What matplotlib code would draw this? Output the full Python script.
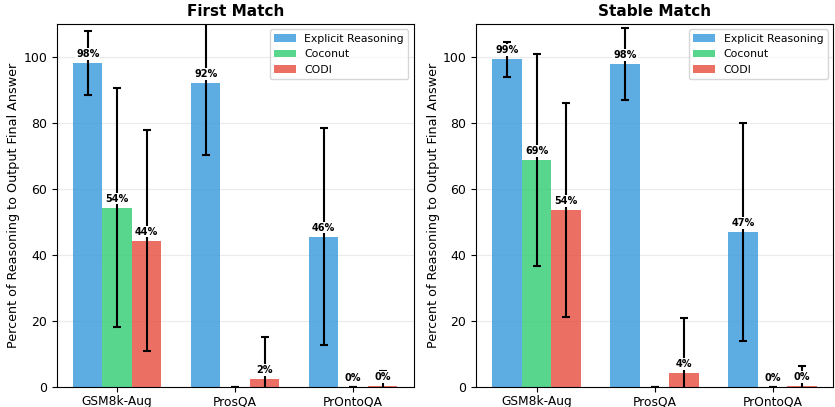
import matplotlib
matplotlib.use("Agg")
import matplotlib.pyplot as plt
import numpy as np

datasets = ['GSM8k-Aug', 'ProsQA', 'PrOntoQA']
methods = ['Explicit Reasoning', 'Coconut', 'CODI']
colors = ['#3498db', '#2ecc71', '#e74c3c']

# First Match: mean and std per method (rows) per dataset (cols)
first_mean = [[98.2, 92.1, 45.6],
              [54.4, 0.0, 0.1],
              [44.4, 2.4, 0.4]]
first_err = [[9.8, 21.8, 32.8],
             [36.2, 0.0, 0.0],
             [33.6, 12.9, 4.5]]

# Stable Match
stable_mean = [[99.3, 97.8, 47.0],
               [68.9, 0.0, 0.1],
               [53.7, 4.2, 0.4]]
stable_err = [[5.4, 10.9, 32.9],
              [32.1, 0.0, 0.0],
              [32.5, 16.6, 6.0]]


def draw_panel(ax, means, errs, title):
	x = np.arange(len(datasets))
	width = 0.25
	for i, m in enumerate(methods):
		pos = x + (i - 1) * width
		ax.bar(pos, means[i], width, color=colors[i], alpha=0.8, label=m,
			   yerr=errs[i], capsize=3, error_kw=dict(elinewidth=1.5, capthick=1.5, ecolor='black'))
		for p, v in zip(pos, means[i]):
			# no label where there is no bar at all
			if v <= 0:
				continue
			ax.text(p, v + 1.2, f'{v:.0f}%', ha='center', va='bottom', fontsize=7, fontweight='bold',
					bbox=dict(facecolor='white', edgecolor='none', pad=0.6), zorder=5)
	ax.set_xticks(x)
	ax.set_xticklabels(datasets, fontsize=8.8)
	ax.tick_params(axis='x', pad=2.5)
	ax.set_ylim(0, 110)
	ax.set_ylabel('Percent of Reasoning to Output Final Answer', fontsize=9.2, labelpad=2)
	ax.set_title(title, fontsize=11, fontweight='bold')
	ax.tick_params(axis='y', labelsize=9)
	ax.grid(axis='y', alpha=0.25)
	ax.set_axisbelow(True)
	ax.legend(loc='upper right', fontsize=7.8)


fig, axes = plt.subplots(1, 2, figsize=(8.35, 4.07), dpi=100)
draw_panel(axes[0], first_mean, first_err, 'First Match')
draw_panel(axes[1], stable_mean, stable_err, 'Stable Match')
plt.subplots_adjust(left=0.068, right=0.9976, top=0.941, bottom=0.049, wspace=0.175)
plt.savefig('out.png', dpi=100)
